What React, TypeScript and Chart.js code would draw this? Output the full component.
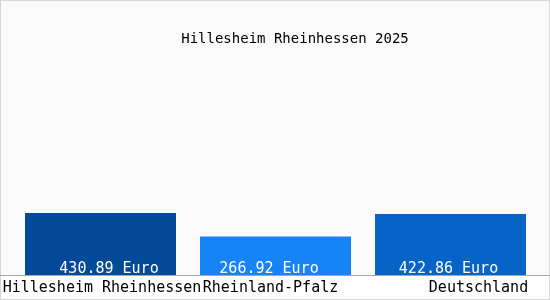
import React, { useEffect, useRef } from "react";
import { Chart, registerables } from "chart.js";

Chart.register(...registerables);

const title = "Hillesheim Rheinhessen 2025";
const categories = ["Hillesheim Rheinhessen", "Rheinland-Pfalz", "Deutschland"];
const values = [430.89, 266.92, 422.86];
const valueLabels = ["430.89 Euro", "266.92 Euro", "422.86 Euro"];
const barColors = ["#034a98", "#1684f6", "#0664c6"];

// small horizontal nudges (px) to mimic the original's text placement
const catNudge = [1.5, -5, 28];
const valNudge = [8.5, -6.5, -2];

const FONT = '"DejaVu Sans Mono", monospace';

const textPlugin = {
  id: "customText",
  beforeDraw(chart: any) {
    const { ctx, width, height } = chart;
    ctx.save();
    ctx.fillStyle = "#fafafa";
    ctx.fillRect(0, 0, width, height);
    ctx.fillStyle = "#ffffff";
    ctx.fillRect(0, 276, width, height - 276);
    ctx.strokeStyle = "#d6d6d6";
    ctx.lineWidth = 1;
    ctx.strokeRect(0.5, 0.5, width - 1, height - 1);
    ctx.restore();
  },
  afterDatasetsDraw(chart: any) {
    const { ctx, width, chartArea } = chart;
    const meta = chart.getDatasetMeta(0);
    const xScale = chart.scales.x;
    ctx.save();
    // axis line
    ctx.strokeStyle = "#a8a8a8";
    ctx.lineWidth = 1;
    ctx.beginPath();
    ctx.moveTo(0, chartArea.bottom + 0.5);
    ctx.lineTo(width, chartArea.bottom + 0.5);
    ctx.stroke();
    // title
    ctx.fillStyle = "#000000";
    ctx.font = `14px ${FONT}`;
    ctx.textAlign = "center";
    ctx.textBaseline = "alphabetic";
    ctx.fillText(title, width / 2 + 20, 43);
    // value labels
    ctx.fillStyle = "#ffffff";
    ctx.font = `15px ${FONT}`;
    meta.data.forEach((bar: any, i: number) => {
      ctx.fillText(valueLabels[i], bar.x + valNudge[i], chartArea.bottom - 2);
    });
    // category labels
    ctx.fillStyle = "#000000";
    ctx.font = `15px ${FONT}`;
    categories.forEach((c, i) => {
      ctx.fillText(c, xScale.getPixelForValue(i) + catNudge[i], chartArea.bottom + 17);
    });
    ctx.restore();
  },
};

export default function App() {
  const ref = useRef<HTMLCanvasElement | null>(null);
  useEffect(() => {
    if (!ref.current) return;
    const chart = new Chart(ref.current, {
      type: "bar",
      data: {
        labels: categories,
        datasets: [
          {
            data: values,
            backgroundColor: barColors,
            borderWidth: 0,
            categoryPercentage: 1,
            barPercentage: 151 / 175,
          },
        ],
      },
      options: {
        animation: false,
        responsive: false,
        maintainAspectRatio: false,
        layout: { padding: { left: 13, right: 12, top: 59, bottom: 25 } },
        plugins: {
          legend: { display: false },
          title: { display: false },
          tooltip: { enabled: false },
        },
        scales: {
          x: { display: false },
          y: { display: false, min: 0, max: 1500 },
        },
      },
      plugins: [textPlugin],
    });
    return () => chart.destroy();
  }, []);
  return (
    <div style={{ position: "fixed", left: 0, top: 0, width: 550, height: 300 }}>
      <canvas ref={ref} width={550} height={300} style={{ width: 550, height: 300 }} />
    </div>
  );
}
